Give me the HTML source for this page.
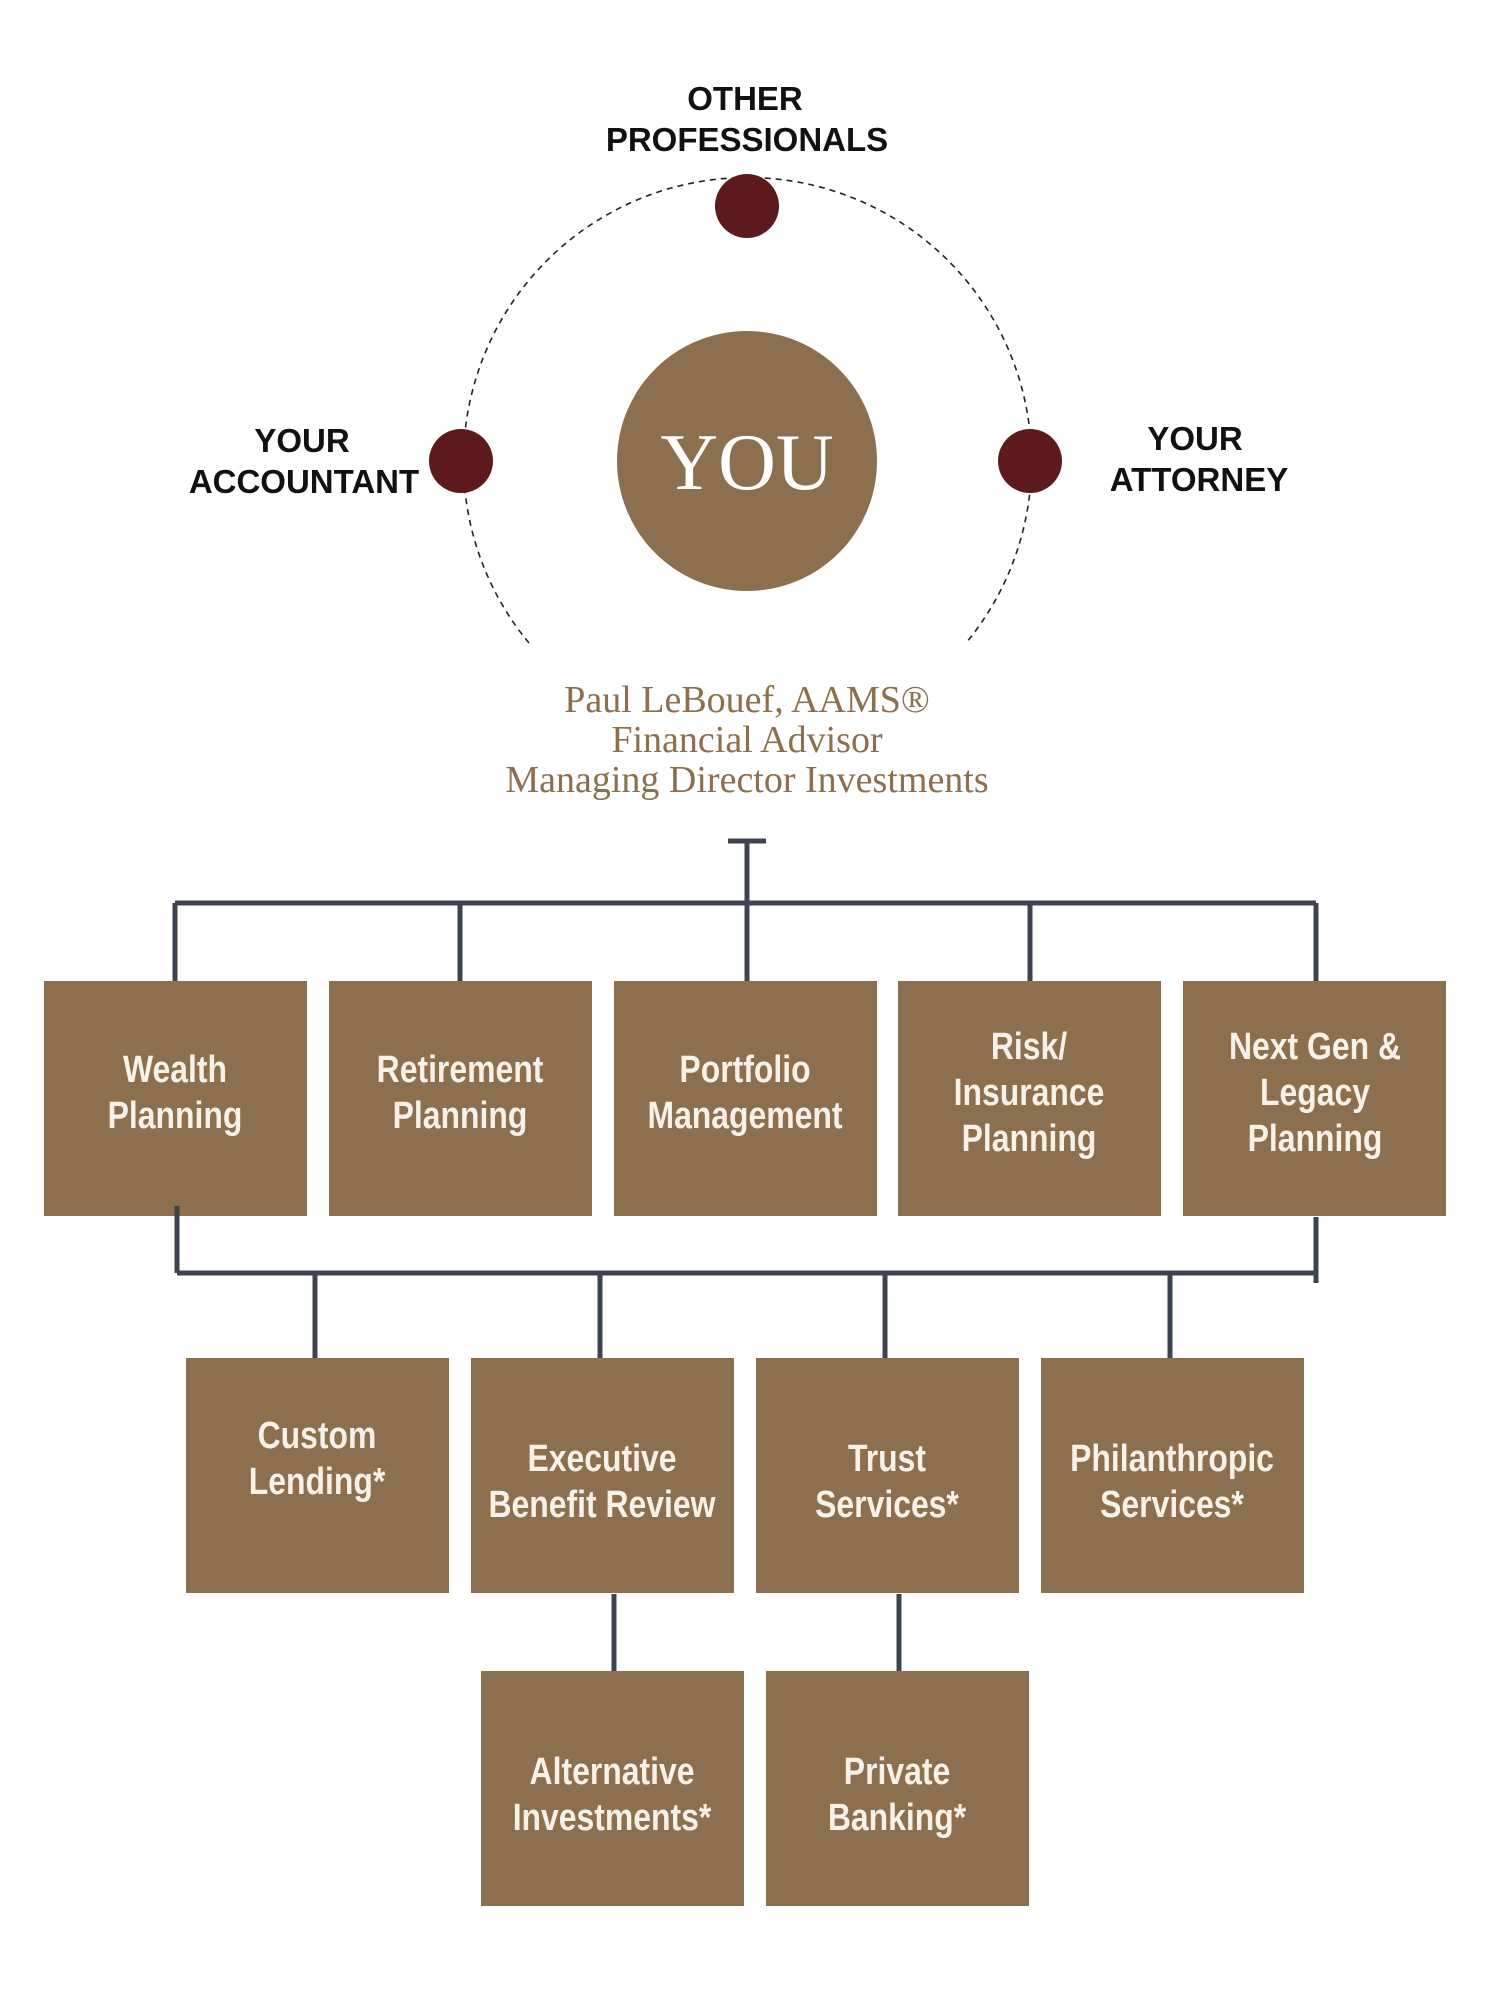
<!DOCTYPE html>
<html><head><meta charset="utf-8"><style>
html,body{margin:0;padding:0;background:#fff;width:1505px;height:2000px;overflow:hidden}
svg{display:block}
.lbl{font-family:"Liberation Sans",sans-serif;font-weight:bold;font-size:33px;fill:#111;text-anchor:middle}
.bx{font-family:"Liberation Sans Narrow","Liberation Sans",sans-serif;font-weight:bold;font-size:38px;fill:#f7f1e8;text-anchor:middle}
.nm{font-family:"Liberation Serif",serif;font-size:38px;fill:#8b6f4e;text-anchor:middle}
</style></head><body>
<svg width="1505" height="2000" viewBox="0 0 1505 2000">
<g transform="translate(0,4)">
<path d="M 529 639 A 284 284 0 1 1 966 639" fill="none" stroke="#222" stroke-width="1.6" stroke-dasharray="6,5"/>
<circle cx="747" cy="457" r="130" fill="#8b6f4e"/>
<text x="747" y="485" font-family="Liberation Serif,serif" font-size="80" fill="#fff" text-anchor="middle">YOU</text>
<circle cx="747" cy="202" r="32" fill="#5c1a1c"/>
<circle cx="461" cy="457" r="32" fill="#5c1a1c"/>
<circle cx="1030" cy="457" r="32" fill="#5c1a1c"/>
<text class="lbl" x="745" y="106">OTHER</text>
<text class="lbl" x="747" y="147">PROFESSIONALS</text>
<text class="lbl" x="302" y="448">YOUR</text>
<text class="lbl" x="304" y="489">ACCOUNTANT</text>
<text class="lbl" x="1195" y="446">YOUR</text>
<text class="lbl" x="1199" y="487">ATTORNEY</text>
<text class="nm" x="747" y="708">Paul LeBouef, AAMS®</text>
<text class="nm" x="747" y="748">Financial Advisor</text>
<text class="nm" x="747" y="788">Managing Director Investments</text>
<g stroke="#3d4450" stroke-width="5" fill="none">
<line x1="728" y1="837" x2="766" y2="837"/>
<line x1="747" y1="837" x2="747" y2="979"/>
<line x1="175" y1="899" x2="1316" y2="899"/>
<line x1="175" y1="899" x2="175" y2="979"/>
<line x1="460" y1="899" x2="460" y2="979"/>
<line x1="1030" y1="899" x2="1030" y2="979"/>
<line x1="1316" y1="899" x2="1316" y2="979"/>
<line x1="177" y1="1202" x2="177" y2="1269"/>
<line x1="1316" y1="1213" x2="1316" y2="1279"/>
<line x1="177" y1="1269" x2="1316" y2="1269"/>
<line x1="315" y1="1269" x2="315" y2="1356"/>
<line x1="600" y1="1269" x2="600" y2="1356"/>
<line x1="885" y1="1269" x2="885" y2="1356"/>
<line x1="1170" y1="1269" x2="1170" y2="1356"/>
<line x1="614" y1="1590" x2="614" y2="1669"/>
<line x1="899" y1="1590" x2="899" y2="1669"/>
</g>
<g fill="#8b6f4e">
<rect x="44" y="977" width="263" height="235"/>
<rect x="329" y="977" width="263" height="235"/>
<rect x="614" y="977" width="263" height="235"/>
<rect x="898" y="977" width="263" height="235"/>
<rect x="1183" y="977" width="263" height="235"/>
<rect x="186" y="1354" width="263" height="235"/>
<rect x="471" y="1354" width="263" height="235"/>
<rect x="756" y="1354" width="263" height="235"/>
<rect x="1041" y="1354" width="263" height="235"/>
<rect x="481" y="1667" width="263" height="235"/>
<rect x="766" y="1667" width="263" height="235"/>
</g>
<line x1="177" y1="1202" x2="177" y2="1212" stroke="#3d4450" stroke-width="5"/>
<g transform="translate(175,0) scale(0.84,1)"><text class="bx" x="0" y="1078">Wealth</text><text class="bx" x="0" y="1124">Planning</text></g>
<g transform="translate(460,0) scale(0.84,1)"><text class="bx" x="0" y="1078">Retirement</text><text class="bx" x="0" y="1124">Planning</text></g>
<g transform="translate(745,0) scale(0.84,1)"><text class="bx" x="0" y="1078">Portfolio</text><text class="bx" x="0" y="1124">Management</text></g>
<g transform="translate(1029,0) scale(0.84,1)"><text class="bx" x="0" y="1055">Risk/</text><text class="bx" x="0" y="1101">Insurance</text><text class="bx" x="0" y="1147">Planning</text></g>
<g transform="translate(1315,0) scale(0.84,1)"><text class="bx" x="0" y="1055">Next Gen &amp;</text><text class="bx" x="0" y="1101">Legacy</text><text class="bx" x="0" y="1147">Planning</text></g>
<g transform="translate(317,0) scale(0.84,1)"><text class="bx" x="0" y="1444">Custom</text><text class="bx" x="0" y="1490">Lending*</text></g>
<g transform="translate(602,0) scale(0.84,1)"><text class="bx" x="0" y="1467">Executive</text><text class="bx" x="0" y="1513">Benefit Review</text></g>
<g transform="translate(887,0) scale(0.84,1)"><text class="bx" x="0" y="1467">Trust</text><text class="bx" x="0" y="1513">Services*</text></g>
<g transform="translate(1172,0) scale(0.84,1)"><text class="bx" x="0" y="1467">Philanthropic</text><text class="bx" x="0" y="1513">Services*</text></g>
<g transform="translate(612,0) scale(0.84,1)"><text class="bx" x="0" y="1780">Alternative</text><text class="bx" x="0" y="1826">Investments*</text></g>
<g transform="translate(897,0) scale(0.84,1)"><text class="bx" x="0" y="1780">Private</text><text class="bx" x="0" y="1826">Banking*</text></g>
</g>
</svg>
</body></html>
